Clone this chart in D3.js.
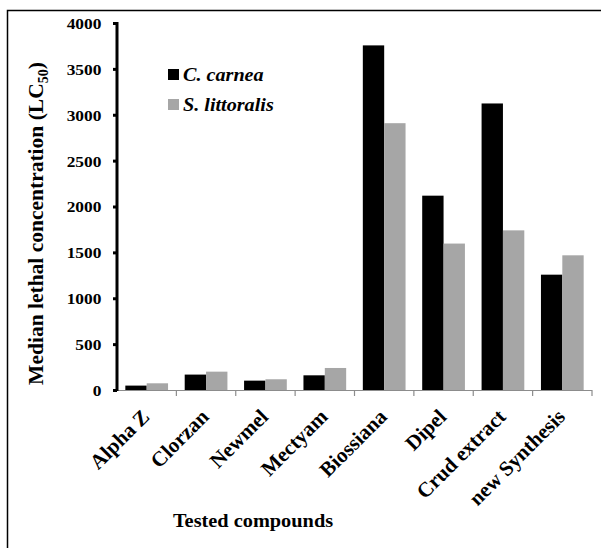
<!DOCTYPE html>
<html>
<head>
<meta charset="utf-8">
<script src="https://cdn.jsdelivr.net/npm/d3@7"></script>
<style>
html,body{margin:0;padding:0;background:#fff;}
svg{display:block;}
text{font-family:"Liberation Serif","Times New Roman",serif;font-weight:bold;fill:#000;}
</style>
</head>
<body>
<svg id="chart" width="601" height="548"></svg>
<script>
const categories = ["Alpha Z","Clorzan","Newmel","Mectyam","Biossiana","Dipel","Crud extract","new Synthesis"];
const seriesNames = ["C. carnea","S. littoralis"];
const carnea = [48,168,102,160,3756,2118,3123,1257];
const littoralis = [73,200,117,240,2908,1596,1740,1468];
const yTicks = [0,500,1000,1500,2000,2500,3000,3500,4000];
const colors = ["#000000","#a6a6a6"];

const SX = 1.12; // slight horizontal stretch of horizontal text in the reference
const svg = d3.select("#chart");
const W = 601, H = 548;
const m = {left:117, right:9, top:23, bottom:158};

// outer frame
svg.append("rect").attr("x",7.5).attr("y",10.5).attr("width",700).attr("height",700)
  .attr("fill","none").attr("stroke","#000").attr("stroke-width",1.5);

const x0 = d3.scaleBand().domain(categories).range([m.left, W - m.right]).paddingInner(0).paddingOuter(0);
const x1 = d3.scaleBand().domain(seriesNames).range([0, x0.bandwidth()]).paddingInner(0).paddingOuter(0.39);
const y = d3.scaleLinear().domain([0,4000]).range([H - m.bottom, m.top]);

const data = categories.map((c,i)=>({cat:c, vals:[carnea[i], littoralis[i]]}));

const g = svg.append("g");
const groups = g.selectAll("g.grp").data(data).enter().append("g")
  .attr("transform", d=>`translate(${x0(d.cat)},0)`);
groups.selectAll("rect").data(d=>d.vals.map((v,j)=>({v, s:seriesNames[j], j})))
  .enter().append("rect")
  .attr("x", d=>x1(d.s))
  .attr("width", x1.bandwidth())
  .attr("y", d=>y(d.v))
  .attr("height", d=>y(0)-y(d.v))
  .attr("fill", d=>colors[d.j]);

// x axis (gray, thin) with ticks at category boundaries
const xAxisG = svg.append("g");
xAxisG.append("line").attr("x1",m.left).attr("x2",W-m.right).attr("y1",y(0)+0.5).attr("y2",y(0)+0.5)
  .attr("stroke","#8c8c8c").attr("stroke-width",1.2);
const bounds = categories.map(c=>x0(c)+x0.bandwidth());
xAxisG.selectAll("line.tk").data(bounds).enter().append("line")
  .attr("x1",d=>d).attr("x2",d=>d).attr("y1",y(0)).attr("y2",y(0)+6)
  .attr("stroke","#8c8c8c").attr("stroke-width",1.2);

// y axis
const yAxis = d3.axisLeft(y).tickValues(yTicks).tickSize(4).tickPadding(10).tickFormat(d3.format("d"));
const yG = svg.append("g").attr("transform",`translate(${m.left},0)`).call(yAxis)
  .attr("font-family","Liberation Serif").attr("font-size",15);
yG.select(".domain").attr("stroke","#000").attr("stroke-width",3)
  .attr("d",`M0,${y(4000)-1}V${y(0)+1}`);
yG.selectAll(".tick line").attr("stroke","#000").attr("stroke-width",3);
yG.selectAll(".tick text")
  .style("font-size","15.5px").style("font-family","Liberation Serif").style("font-weight","bold")
  .attr("dy","0.35em")
  .attr("transform",`scale(${SX},1)`);

// x labels rotated 45°
svg.append("g").selectAll("text").data(categories).enter().append("text")
  .attr("transform", d=>`translate(${x0(d)+x0.bandwidth()/2+4},${y(0)+28}) rotate(-45)`)
  .attr("text-anchor","end")
  .style("font-size","21px")
  .text(d=>d);

// axis titles
svg.append("text").attr("transform",`translate(253,527) scale(1.13,1)`).attr("text-anchor","middle")
  .style("font-size","18px").text("Tested compounds");

const yt = svg.append("text").attr("transform",`translate(43,${(y(0)+y(4000))/2+17}) rotate(-90)`)
  .attr("text-anchor","middle").style("font-size","21.5px");
yt.append("tspan").text("Median lethal concentration (LC");
yt.append("tspan").attr("dy",5).style("font-size","14px").text("50");
yt.append("tspan").attr("dy",-5).text(")");

// legend
const leg = svg.append("g");
seriesNames.forEach((s,i)=>{
  const yy = 69 + i*30;
  leg.append("rect").attr("x",168).attr("y",yy).attr("width",11).attr("height",11).attr("fill",colors[i]);
  leg.append("text").attr("transform",`translate(183,${yy+12}) scale(${SX},1)`)
    .style("font-size","18px").style("font-style","italic").text(s);
});
</script>
</body>
</html>
